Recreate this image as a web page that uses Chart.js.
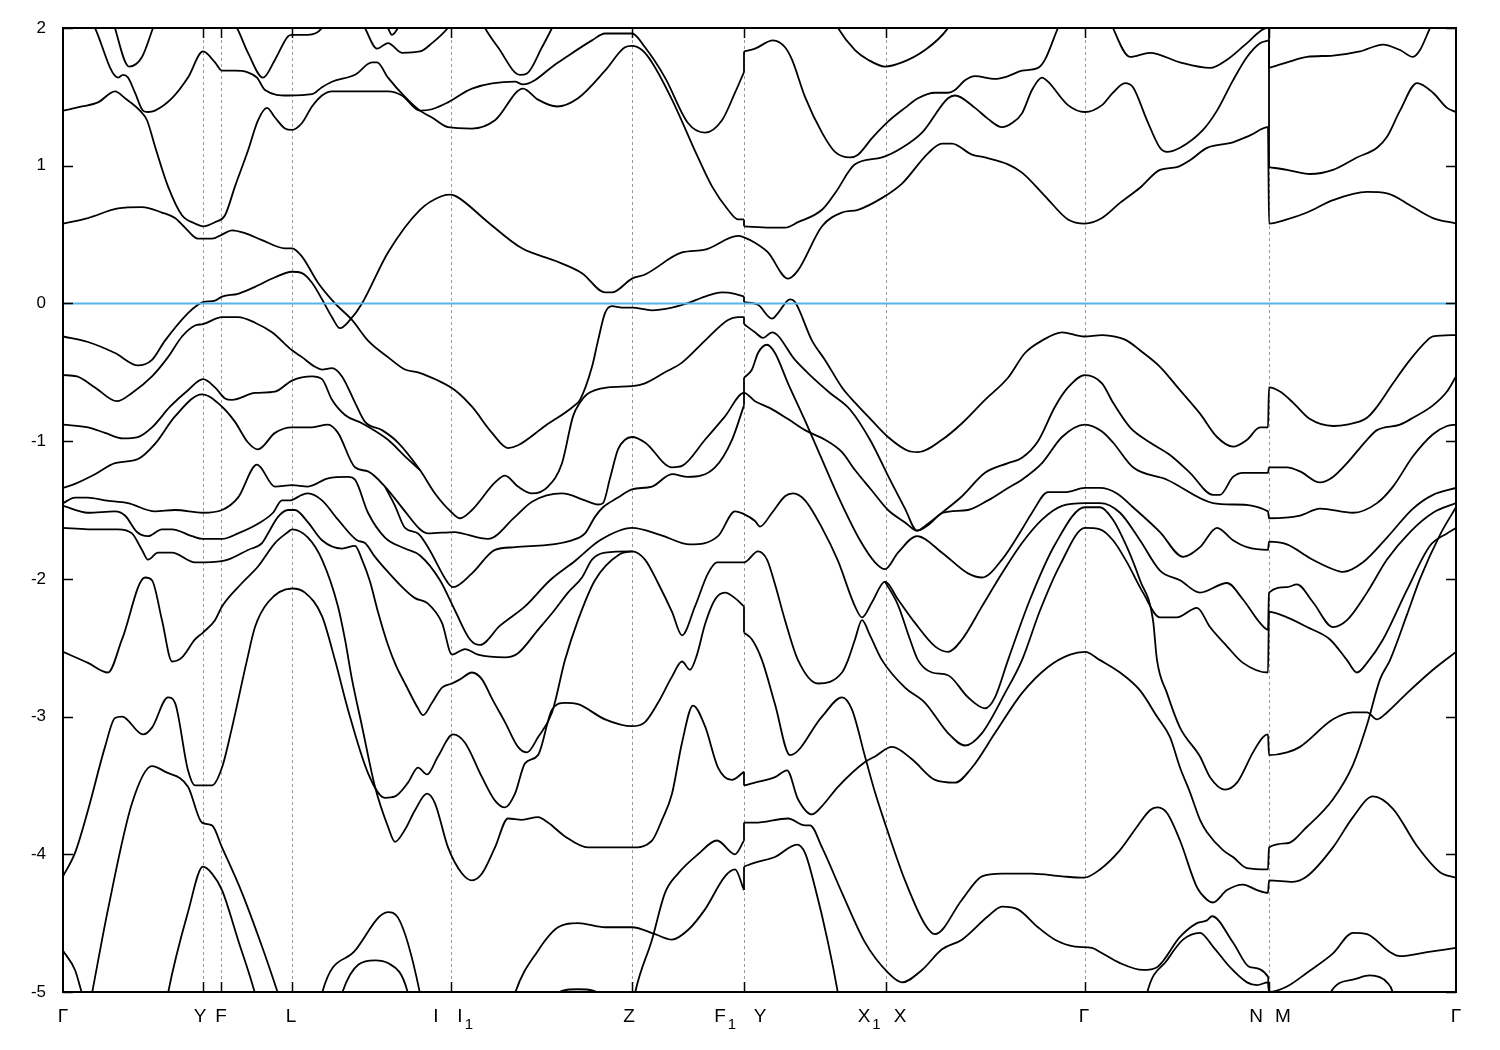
<!DOCTYPE html>
<html>
<head>
<meta charset="utf-8">
<script src="https://cdn.jsdelivr.net/npm/chart.js@4.4.1/dist/chart.umd.min.js"></script>
<style>
  body { margin: 0; background: #fff; }
  #wrap { width: 1500px; height: 1050px; }
</style>
</head>
<body>
<div id="wrap"><canvas id="bands" width="1500" height="1050"></canvas></div>
<script>
// k-path positions of the high-symmetry points
const symK = [0, 140, 158, 229, 388, 569, 681, 823, 1022, 1206, 1393];
// label text, subscript and label centre along the path
const kLabelText = ['Γ', 'Y', 'F', 'L', 'I', 'I', 'Z', 'F', 'Y', 'X', 'X', 'Γ', 'N', 'M', 'Γ'];
const kLabelSub  = ['', '', '', '', '', '1', '', '1', '', '1', '', '', '', '', ''];
const kLabelPos  = [0, 137, 158, 228, 373, 397, 566, 657, 697, 801, 837, 1021, 1193, 1220, 1393];
const yTicks = [2, 1, 0, -1, -2, -3, -4, -5];
const fermiLevel = 0;

// bands: [k, E (eV)]; two points at the same k are a jump at a path break
const bandQ = [[0,1.40],[19,1.43],[35,1.46],[52,1.54],[62,1.49],[77,1.40],[84,1.33],[92,1.14],[105,0.85],[119,0.64],[132,0.58],[140,0.56],[152,0.59],[162,0.64],[172,0.85],[185,1.11],[195,1.33],[204,1.42],[212,1.35],[222,1.27],[229,1.26],[239,1.31],[249,1.43],[259,1.51],[269,1.54],[325,1.54],[339,1.51],[357,1.40],[369,1.41],[385,1.46],[409,1.56],[452,1.61],[460,1.59],[495,1.75],[529,1.91],[542,1.96],[569,1.96],[582,1.86],[602,1.64],[625,1.31],[642,1.24],[659,1.33],[672,1.53],[681,1.68],[681,1.83],[692,1.85],[710,1.91],[722,1.86],[729,1.77],[742,1.50],[759,1.24],[772,1.10],[787,1.06],[795,1.08],[809,1.20],[825,1.32],[842,1.42],[855,1.49],[872,1.53],[885,1.53],[892,1.55],[902,1.62],[912,1.65],[932,1.63],[945,1.65],[959,1.69],[975,1.71],[982,1.77],[995,2.00],[999,2.06]];
const bandP = [[30,2.03],[32,2.00],[55,1.64],[60,1.66],[65,1.64],[72,1.53],[80,1.40],[85,1.39],[92,1.40],[109,1.49],[125,1.64],[140,1.83],[152,1.75],[159,1.69],[172,1.69],[184,1.68],[194,1.64],[202,1.55],[225,1.51],[249,1.52],[259,1.57],[269,1.61],[292,1.66],[309,1.75],[314,1.75],[325,1.64],[342,1.50],[357,1.40],[369,1.35],[385,1.28],[409,1.27],[432,1.33],[460,1.56],[475,1.48],[494,1.43],[515,1.49],[542,1.69],[562,1.86],[569,1.87],[579,1.84],[589,1.75],[609,1.48],[635,1.06],[649,0.85],[665,0.68],[675,0.61],[681,0.61],[681,0.56],[707,0.55],[722,0.55],[735,0.59],[759,0.68],[772,0.80],[792,1.01],[819,1.06],[839,1.13],[859,1.24],[885,1.49],[892,1.51],[912,1.42],[925,1.34],[939,1.28],[949,1.31],[959,1.38],[969,1.55],[979,1.64],[985,1.61],[1005,1.44],[1022,1.39],[1039,1.44],[1050,1.53],[1062,1.60],[1070,1.57],[1084,1.33],[1097,1.13],[1104,1.10],[1117,1.13],[1140,1.26],[1154,1.40],[1170,1.62],[1184,1.79],[1197,1.89],[1206,1.91],[1206,0.99],[1224,0.97],[1247,0.94],[1270,0.97],[1294,1.06],[1314,1.13],[1324,1.21],[1337,1.40],[1354,1.60],[1370,1.53],[1384,1.42],[1393,1.39]];
const bandT = [[1047,2.06],[1050,2.00],[1067,1.79],[1087,1.82],[1117,1.75],[1147,1.71],[1164,1.77],[1184,1.89],[1204,2.00],[1206,2.00],[1206,1.71],[1224,1.75],[1244,1.79],[1270,1.80],[1297,1.83],[1320,1.88],[1337,1.84],[1350,1.79],[1357,1.84],[1367,2.00],[1371,2.06]];
const bandTopA = [[50,2.06],[52,2.00],[66,1.72],[79,1.79],[90,2.00],[93,2.06]];
const bandTopB = [[172,2.02],[174,2.00],[185,1.82],[200,1.64],[212,1.77],[225,1.94],[229,1.95],[245,1.95],[259,2.00],[263,2.06]];
const bandTopC = [[300,2.03],[302,2.00],[314,1.85],[325,1.89],[339,1.82],[357,1.83],[369,1.89],[385,2.00],[388,2.03]];
const bandTopD = [[323,2.03],[325,2.00],[329,1.95],[335,2.00],[337,2.03]];
const bandTopE = [[420,2.03],[422,2.00],[435,1.86],[457,1.66],[464,1.67],[479,1.86],[489,2.00],[491,2.03]];
const bandTopF = [[773,2.03],[775,2.00],[792,1.84],[805,1.77],[822,1.72],[839,1.75],[862,1.84],[884,1.99],[887,2.03]];
const bandY0 = [[0,-0.24],[25,-0.28],[52,-0.36],[75,-0.45],[89,-0.41],[102,-0.27],[125,-0.07],[135,-0.01],[140,0.01],[152,0.02],[159,0.05],[175,0.07],[192,0.12],[212,0.19],[229,0.23],[239,0.22],[249,0.15],[259,0.03],[269,-0.10],[277,-0.18],[287,-0.12],[299,0.00],[325,0.37],[357,0.68],[379,0.78],[388,0.79],[395,0.77],[425,0.59],[459,0.40],[492,0.31],[519,0.22],[542,0.08],[549,0.08],[569,0.18],[582,0.21],[619,0.37],[642,0.39],[675,0.49],[681,0.48],[692,0.44],[705,0.37],[725,0.18],[735,0.24],[759,0.56],[779,0.66],[795,0.68],[820,0.77],[839,0.87],[865,1.09],[879,1.16],[889,1.16],[909,1.08],[922,1.06],[945,1.01],[959,0.95],[982,0.78],[1005,0.61],[1022,0.58],[1039,0.62],[1057,0.73],[1077,0.84],[1097,0.97],[1114,0.99],[1127,1.04],[1144,1.13],[1170,1.17],[1187,1.22],[1205,1.28],[1206,0.58],[1224,0.61],[1244,0.66],[1270,0.75],[1304,0.81],[1324,0.80],[1350,0.70],[1370,0.62],[1393,0.58]];
const bandA = [[0,0.58],[25,0.62],[55,0.69],[79,0.70],[99,0.66],[112,0.62],[122,0.55],[135,0.47],[149,0.47],[159,0.50],[169,0.53],[182,0.51],[199,0.46],[222,0.40],[229,0.40],[239,0.34],[255,0.15],[272,0.00],[289,-0.12],[305,-0.27],[325,-0.39],[342,-0.48],[355,-0.50],[375,-0.56],[392,-0.63],[409,-0.75],[429,-0.94],[445,-1.05],[455,-1.03],[482,-0.89],[510,-0.75],[517,-0.70],[529,-0.46],[535,-0.27],[542,-0.07],[549,-0.02],[559,-0.03],[569,-0.03],[589,-0.05],[609,-0.03],[624,0.00],[642,0.05],[659,0.08],[672,0.07],[681,0.05],[681,0.01],[695,-0.01],[709,-0.11],[715,-0.07],[727,0.03],[732,0.01],[749,-0.27],[762,-0.41],[779,-0.61],[792,-0.72],[805,-0.82],[825,-0.97],[845,-1.07],[855,-1.08],[879,-0.99],[899,-0.87],[922,-0.70],[945,-0.54],[962,-0.36],[979,-0.27],[999,-0.21],[1021,-0.24],[1039,-0.23],[1057,-0.25],[1064,-0.27],[1077,-0.34],[1097,-0.46],[1117,-0.63],[1137,-0.80],[1154,-0.97],[1170,-1.04],[1184,-0.99],[1197,-0.90],[1205,-0.90],[1206,-0.61],[1217,-0.64],[1230,-0.72],[1247,-0.84],[1270,-0.89],[1284,-0.88],[1304,-0.83],[1314,-0.75],[1330,-0.58],[1347,-0.41],[1364,-0.27],[1370,-0.24],[1393,-0.23]];
const bandV2 = [[0,-0.52],[14,-0.53],[32,-0.61],[54,-0.71],[69,-0.65],[89,-0.53],[105,-0.39],[119,-0.24],[132,-0.16],[140,-0.15],[159,-0.10],[175,-0.10],[192,-0.14],[209,-0.21],[229,-0.34],[239,-0.39],[252,-0.46],[259,-0.48],[269,-0.47],[279,-0.53],[292,-0.72],[302,-0.86],[319,-0.92],[335,-1.01],[357,-1.21],[372,-1.38],[389,-1.52],[397,-1.56],[409,-1.50],[432,-1.30],[442,-1.25],[455,-1.33],[469,-1.38],[485,-1.33],[499,-1.16],[510,-0.82],[517,-0.72],[524,-0.66],[545,-0.61],[569,-0.60],[582,-0.58],[602,-0.50],[619,-0.43],[642,-0.27],[665,-0.12],[675,-0.10],[681,-0.10],[681,-0.15],[692,-0.21],[700,-0.25],[709,-0.21],[732,-0.41],[747,-0.52],[767,-0.65],[787,-0.77],[807,-0.99],[827,-1.28],[842,-1.49],[854,-1.65],[865,-1.61],[880,-1.52],[905,-1.50],[925,-1.43],[945,-1.34],[959,-1.28],[979,-1.16],[999,-0.97],[1022,-0.88],[1039,-0.93],[1050,-1.01],[1070,-1.19],[1104,-1.28],[1150,-1.45],[1170,-1.46],[1205,-1.51],[1206,-1.56],[1237,-1.54],[1257,-1.49],[1290,-1.52],[1314,-1.45],[1330,-1.33],[1350,-1.11],[1370,-0.95],[1384,-0.89],[1393,-0.88]];
const bandIII = [[0,-0.88],[25,-0.90],[42,-0.94],[60,-0.98],[75,-0.97],[89,-0.90],[107,-0.75],[125,-0.63],[140,-0.55],[152,-0.61],[162,-0.69],[169,-0.70],[192,-0.65],[212,-0.64],[229,-0.56],[249,-0.53],[259,-0.55],[269,-0.70],[282,-0.81],[299,-0.87],[325,-0.99],[342,-1.11],[357,-1.21]];
const bandIV = [[0,-1.34],[12,-1.31],[32,-1.24],[52,-1.16],[75,-1.13],[92,-1.02],[112,-0.82],[139,-0.66],[159,-0.75],[172,-0.86],[185,-1.01],[195,-1.06],[212,-0.94],[229,-0.90],[249,-0.90],[265,-0.88],[275,-0.94],[292,-1.19],[305,-1.22],[322,-1.33],[342,-1.51],[357,-1.64],[365,-1.67],[392,-1.66],[399,-1.67],[425,-1.71],[452,-1.55],[469,-1.44],[499,-1.38],[522,-1.43],[535,-1.46],[540,-1.45],[547,-1.27],[555,-1.06],[562,-0.99],[569,-0.97],[582,-1.01],[609,-1.19],[619,-1.18],[642,-0.99],[662,-0.82],[681,-0.65],[692,-0.71],[707,-0.76],[725,-0.84],[742,-0.92],[762,-0.99],[779,-1.08],[792,-1.21],[809,-1.36],[825,-1.50],[842,-1.59],[854,-1.65],[865,-1.60],[879,-1.52],[899,-1.40],[922,-1.23],[945,-1.16],[959,-1.12],[975,-1.00],[992,-0.75],[1005,-0.61],[1022,-0.52],[1039,-0.58],[1050,-0.72],[1067,-0.90],[1087,-1.01],[1107,-1.10],[1127,-1.23],[1150,-1.39],[1157,-1.39],[1170,-1.26],[1180,-1.23],[1205,-1.23],[1206,-1.19],[1224,-1.19],[1237,-1.22],[1257,-1.30],[1270,-1.26],[1284,-1.16],[1304,-0.99],[1314,-0.92],[1337,-0.88],[1350,-0.83],[1370,-0.74],[1384,-0.64],[1393,-0.53]];
const band66 = [[322,-1.33],[332,-1.47],[342,-1.63],[355,-1.67],[365,-1.77],[385,-2.03],[390,-2.06],[409,-1.96],[432,-1.79],[452,-1.77],[509,-1.72],[522,-1.67],[532,-1.55],[540,-1.48],[555,-1.41],[569,-1.35],[589,-1.33],[609,-1.24],[625,-1.26],[652,-1.19],[669,-0.99],[681,-0.74],[681,-0.54],[689,-0.48],[695,-0.36],[704,-0.30],[712,-0.36],[725,-0.58],[742,-0.85],[757,-1.10],[777,-1.43],[797,-1.72],[812,-1.88],[822,-1.93],[835,-1.81],[854,-1.69],[879,-1.81],[905,-1.96],[919,-1.99],[939,-1.86],[959,-1.64],[969,-1.52],[985,-1.37],[1002,-1.37],[1022,-1.34],[1037,-1.34],[1054,-1.38],[1070,-1.48],[1097,-1.66],[1120,-1.84],[1137,-1.77],[1154,-1.63],[1170,-1.72],[1184,-1.77],[1205,-1.79],[1206,-1.73],[1224,-1.75],[1247,-1.85],[1270,-1.93],[1280,-1.95],[1300,-1.88],[1324,-1.70],[1350,-1.49],[1370,-1.39],[1393,-1.34]];
const bandV = [[0,-1.45],[12,-1.41],[25,-1.41],[42,-1.43],[65,-1.45],[92,-1.51],[112,-1.50],[140,-1.52],[159,-1.50],[175,-1.41],[194,-1.17],[212,-1.33],[229,-1.32],[245,-1.33],[265,-1.27],[285,-1.26],[292,-1.28],[305,-1.52],[322,-1.70],[342,-1.78],[357,-1.83],[377,-2.01],[392,-2.23],[407,-2.44],[417,-2.48],[437,-2.34],[462,-2.20],[487,-2.01],[512,-1.87],[537,-1.72],[569,-1.63],[597,-1.68],[627,-1.75],[655,-1.69],[672,-1.51],[681,-1.53],[692,-1.58],[697,-1.62],[709,-1.52],[722,-1.40],[730,-1.38],[742,-1.43],[759,-1.63],[775,-1.87],[792,-2.20],[799,-2.28],[809,-2.17],[822,-2.02],[835,-2.15],[852,-2.32],[872,-2.49],[885,-2.53],[899,-2.44],[919,-2.20],[939,-1.96],[959,-1.74],[979,-1.57],[999,-1.47],[1022,-1.45],[1037,-1.45],[1057,-1.52],[1077,-1.72],[1097,-1.94],[1117,-2.01],[1137,-2.10],[1164,-2.03],[1180,-2.15],[1197,-2.32],[1205,-2.37],[1206,-2.10],[1224,-2.06],[1234,-2.04],[1250,-2.17],[1270,-2.35],[1284,-2.30],[1304,-2.10],[1324,-1.86],[1347,-1.66],[1370,-1.52],[1393,-1.45]];
const bandVI = [[0,-1.47],[25,-1.52],[52,-1.51],[62,-1.54],[74,-1.66],[85,-1.69],[99,-1.64],[109,-1.64],[129,-1.69],[140,-1.71],[159,-1.71],[175,-1.67],[195,-1.60],[210,-1.52],[219,-1.43],[227,-1.43],[239,-1.39],[245,-1.38],[259,-1.43],[275,-1.57],[294,-1.72],[302,-1.74],[312,-1.84],[325,-1.95],[342,-2.08],[352,-2.14],[365,-2.18],[379,-2.32],[389,-2.55],[402,-2.51],[415,-2.55],[442,-2.57],[455,-2.54],[475,-2.37],[489,-2.25],[505,-2.10],[519,-1.99],[529,-1.86],[542,-1.81],[569,-1.80],[582,-1.86],[595,-2.03],[609,-2.24],[619,-2.41],[632,-2.20],[645,-1.96],[654,-1.88],[681,-1.88],[695,-1.80],[704,-1.86],[712,-2.04],[722,-2.30],[735,-2.59],[755,-2.76],[779,-2.68],[785,-2.59],[792,-2.44],[799,-2.30],[807,-2.41],[819,-2.59],[842,-2.79],[862,-2.90],[885,-3.12],[902,-3.21],[919,-3.12],[942,-2.83],[959,-2.59],[977,-2.23],[997,-1.90],[1022,-1.63],[1037,-1.64],[1050,-1.72],[1064,-1.88],[1080,-2.10],[1097,-2.28],[1114,-2.28],[1134,-2.21],[1147,-2.35],[1164,-2.49],[1180,-2.61],[1205,-2.68],[1206,-2.24],[1224,-2.28],[1244,-2.35],[1267,-2.44],[1284,-2.59],[1294,-2.68],[1304,-2.61],[1320,-2.44],[1344,-2.08],[1367,-1.76],[1384,-1.67],[1393,-1.63]];
const bandVII = [[0,-1.63],[25,-1.64],[55,-1.64],[69,-1.67],[79,-1.79],[85,-1.86],[95,-1.81],[109,-1.81],[132,-1.88],[142,-1.88],[165,-1.86],[185,-1.79],[199,-1.74],[205,-1.67],[215,-1.55],[225,-1.50],[232,-1.50],[245,-1.59],[259,-1.72],[279,-1.78],[292,-1.76],[299,-1.86],[307,-2.02],[315,-2.24],[325,-2.48],[333,-2.63],[342,-2.76],[355,-2.94],[360,-2.99],[369,-2.90],[379,-2.79],[389,-2.76],[397,-2.73],[409,-2.68],[419,-2.73],[429,-2.87],[442,-3.04],[455,-3.22],[464,-3.26],[475,-3.15],[489,-2.97],[502,-2.59],[515,-2.30],[532,-2.01],[557,-1.82],[569,-1.80]];
const bandVIII = [[0,-2.53],[25,-2.61],[45,-2.68],[59,-2.44],[82,-1.99],[89,-2.01],[99,-2.30],[109,-2.60],[119,-2.57],[132,-2.44],[140,-2.39],[152,-2.30],[159,-2.20],[179,-2.03],[195,-1.91],[212,-1.74],[225,-1.66],[229,-1.64],[245,-1.70],[259,-1.86],[275,-2.20],[282,-2.44],[289,-2.73],[299,-3.07],[312,-3.51],[325,-3.80],[332,-3.91],[342,-3.82],[352,-3.68],[364,-3.56],[372,-3.63],[385,-3.95],[399,-4.14],[409,-4.19],[419,-4.14],[432,-3.95],[445,-3.74],[459,-3.75],[475,-3.73],[485,-3.77],[502,-3.87],[525,-3.95],[542,-3.95],[569,-3.95],[589,-3.90],[599,-3.75],[609,-3.56],[619,-3.19],[630,-2.92],[642,-3.07],[655,-3.37],[669,-3.46],[681,-3.40],[681,-3.50],[692,-3.48],[712,-3.44],[724,-3.39],[735,-3.60],[749,-3.71],[759,-3.65],[775,-3.51],[802,-3.33],[812,-3.29],[829,-3.22],[849,-3.31],[872,-3.46],[892,-3.48],[909,-3.37],[932,-3.12],[959,-2.83],[985,-2.64],[1007,-2.55],[1022,-2.53],[1037,-2.59],[1057,-2.68],[1077,-2.81],[1094,-3.00],[1107,-3.15],[1117,-3.37],[1127,-3.55],[1137,-3.75],[1144,-3.84],[1160,-3.97],[1170,-4.02],[1184,-4.10],[1205,-4.11],[1206,-3.95],[1224,-3.92],[1244,-3.80],[1270,-3.60],[1290,-3.35],[1304,-3.06],[1317,-2.73],[1327,-2.59],[1344,-2.26],[1357,-2.00],[1377,-1.68],[1393,-1.48]];
const bandIX = [[0,-4.16],[12,-3.99],[25,-3.68],[42,-3.22],[52,-3.01],[59,-3.00],[80,-3.13],[89,-3.08],[105,-2.86],[112,-2.90],[125,-3.39],[132,-3.50],[149,-3.50],[159,-3.37],[169,-3.08],[184,-2.59],[192,-2.35],[205,-2.17],[229,-2.07],[242,-2.10],[259,-2.27],[272,-2.59],[285,-2.95],[305,-3.41],[322,-3.59],[332,-3.58],[345,-3.48],[355,-3.37],[364,-3.42],[375,-3.29],[390,-3.13],[402,-3.19],[419,-3.44],[432,-3.61],[442,-3.66],[452,-3.56],[462,-3.34],[475,-3.28],[489,-2.95],[502,-2.90],[515,-2.91],[542,-3.02],[569,-3.07],[582,-3.04],[595,-2.90],[609,-2.71],[619,-2.60],[627,-2.66],[634,-2.55],[642,-2.33],[652,-2.15],[662,-2.10],[672,-2.14],[681,-2.20],[681,-2.39],[689,-2.44],[699,-2.59],[712,-2.91],[727,-3.28],[759,-3.00],[779,-2.86],[789,-2.95],[802,-3.29],[812,-3.55],[825,-3.84],[842,-4.19],[862,-4.51],[872,-4.58],[899,-4.33],[919,-4.16],[939,-4.14],[969,-4.14],[999,-4.16],[1021,-4.17],[1037,-4.11],[1057,-3.97],[1074,-3.80],[1087,-3.68],[1094,-3.66],[1104,-3.70],[1117,-3.90],[1134,-4.24],[1144,-4.33],[1150,-4.35],[1164,-4.26],[1180,-4.22],[1194,-4.26],[1205,-4.28],[1206,-4.19],[1230,-4.20],[1244,-4.16],[1270,-3.95],[1290,-3.73],[1310,-3.58],[1330,-3.67],[1354,-3.94],[1377,-4.13],[1393,-4.17]];
const bandX = [[0,-4.70],[12,-4.84],[19,-5.01],[23,-5.10]];
const bandXI = [[29,-5.01],[45,-4.40],[69,-3.63],[89,-3.36],[102,-3.40],[125,-3.51],[139,-3.77],[149,-3.79],[159,-3.95],[179,-4.28],[199,-4.67],[215,-5.01],[219,-5.10]];
const bandXII = [[103,-5.10],[105,-5.01],[125,-4.42],[140,-4.09],[149,-4.14],[159,-4.26],[175,-4.62],[192,-5.01],[195,-5.10]];
const bandXIV = [[257,-5.10],[259,-5.01],[292,-4.70],[325,-4.42],[335,-4.46],[357,-5.01],[359,-5.10]];
const bandXV = [[277,-5.10],[279,-5.01],[312,-4.77],[325,-4.79],[345,-5.01],[347,-5.10]];
const bandXVI = [[485,-5.05],[500,-4.99],[515,-4.98],[530,-4.99],[545,-5.05]];
const bandXVII = [[570,-5.10],[572,-5.01],[589,-4.62],[602,-4.28],[615,-4.14],[635,-4.00],[654,-3.90],[672,-4.00],[681,-3.90],[681,-3.77],[692,-3.77],[725,-3.74],[742,-3.79],[747,-3.79],[759,-3.95],[779,-4.28],[802,-4.64],[825,-4.86],[839,-4.93],[859,-4.84],[879,-4.69],[899,-4.62],[925,-4.45],[939,-4.38],[955,-4.40],[975,-4.53],[992,-4.62],[1012,-4.67],[1029,-4.68],[1037,-4.71],[1057,-4.79],[1080,-4.84],[1094,-4.82],[1117,-4.60],[1134,-4.50],[1144,-4.48],[1149,-4.45],[1170,-4.64],[1187,-4.82],[1205,-4.89],[1206,-5.00],[1224,-4.96],[1244,-4.86],[1270,-4.72],[1290,-4.57],[1304,-4.58],[1327,-4.71],[1337,-4.74],[1364,-4.71],[1393,-4.68]];
const bandXVIII = [[449,-5.10],[452,-5.01],[475,-4.70],[495,-4.53],[515,-4.50],[542,-4.53],[569,-4.53],[592,-4.58],[609,-4.62],[625,-4.55],[642,-4.40],[662,-4.16],[672,-4.11],[681,-4.26],[681,-4.09],[692,-4.06],[712,-4.02],[734,-3.93],[742,-3.99],[752,-4.24],[765,-4.64],[775,-5.01],[777,-5.10]];
const bandXX = [[822,-2.02],[835,-2.19],[847,-2.44],[855,-2.59],[869,-2.68],[885,-2.70],[905,-2.86],[922,-2.94],[932,-2.86],[945,-2.59],[967,-2.15],[992,-1.75],[1022,-1.48],[1037,-1.48],[1050,-1.57],[1064,-1.77],[1077,-2.01],[1090,-2.30],[1094,-2.59],[1104,-2.83],[1117,-3.08],[1137,-3.29],[1147,-3.44],[1162,-3.53],[1174,-3.48],[1190,-3.26],[1200,-3.15],[1205,-3.13],[1206,-3.28],[1224,-3.26],[1237,-3.22],[1270,-3.02],[1290,-2.97],[1304,-2.97],[1314,-3.02],[1324,-2.97],[1344,-2.83],[1370,-2.66],[1393,-2.53]];
const bandXXI = [[1082,-5.10],[1084,-5.01],[1104,-4.77],[1120,-4.62],[1137,-4.57],[1150,-4.67],[1167,-4.82],[1184,-4.93],[1194,-4.95],[1205,-4.93],[1206,-5.00]];
const bandXXII = [[1265,-5.10],[1267,-5.01],[1290,-4.91],[1307,-4.88],[1324,-4.93],[1330,-5.01],[1332,-5.10]];

const allBands = [bandQ, bandP, bandT, bandTopA, bandTopB, bandTopC, bandTopD, bandTopE, bandTopF,
  bandY0, bandA, bandV2, bandIII, bandIV, band66, bandV, bandVI, bandVII, bandVIII, bandIX,
  bandX, bandXI, bandXII, bandXIV, bandXV, bandXVI, bandXVII, bandXVIII,
  bandXX, bandXXI, bandXXII];

const FONT = "'Liberation Sans', Arial, Helvetica, sans-serif";

// cut a band where it jumps (same k twice): smooth pieces plus straight jump segments
function pieces(band) {
  const out = [];
  let cur = [band[0]];
  for (let i = 1; i < band.length; i++) {
    const p = band[i], q = band[i - 1];
    if (p[0] === q[0]) {
      out.push({ pts: cur, smooth: true });
      out.push({ pts: [q, p], smooth: false });
      cur = [p];
    } else {
      cur.push(p);
    }
  }
  out.push({ pts: cur, smooth: true });
  return out.filter(s => s.pts.length > 1);
}

const datasets = [];
allBands.forEach(b => {
  pieces(b).forEach(s => {
    datasets.push({
      data: s.pts.map(([k, e]) => ({ x: k, y: e })),
      showLine: true,
      borderColor: '#000',
      borderWidth: 1.8,
      pointRadius: 0,
      fill: false,
      tension: 0,
      cubicInterpolationMode: s.smooth && s.pts.length > 2 ? 'monotone' : 'default'
    });
  });
});

// dashed lines at the symmetry points, zero line, inward ticks and k labels
const decor = {
  id: 'decor',
  beforeDatasetsDraw(chart) {
    const { ctx, chartArea: a, scales: { x } } = chart;
    ctx.save();
    ctx.strokeStyle = '#9a9a9a';
    ctx.lineWidth = 1;
    ctx.setLineDash([3, 3]);
    symK.slice(1, -1).forEach(k => {
      const px = Math.round(x.getPixelForValue(k)) + 0.5;
      ctx.beginPath(); ctx.moveTo(px, a.top); ctx.lineTo(px, a.bottom); ctx.stroke();
    });
    ctx.restore();
  },
  afterDatasetsDraw(chart) {
    const { ctx, chartArea: a, scales: { x, y } } = chart;
    ctx.save();
    const yz = y.getPixelForValue(fermiLevel);
    ctx.strokeStyle = '#56b4e9';
    ctx.lineWidth = 2;
    ctx.beginPath(); ctx.moveTo(a.left, yz); ctx.lineTo(a.right, yz); ctx.stroke();
    ctx.strokeStyle = '#000';
    ctx.lineWidth = 2;
    ctx.strokeRect(a.left, a.top, a.right - a.left, a.bottom - a.top);
    ctx.lineWidth = 1.5;
    yTicks.forEach(v => {
      const py = Math.round(y.getPixelForValue(v)) + 0.5;
      ctx.beginPath();
      ctx.moveTo(a.left, py); ctx.lineTo(a.left + 10, py);
      ctx.moveTo(a.right, py); ctx.lineTo(a.right - 10, py);
      ctx.stroke();
    });
    symK.slice(1, -1).forEach(k => {
      const px = Math.round(x.getPixelForValue(k)) + 0.5;
      ctx.beginPath();
      ctx.moveTo(px, a.top); ctx.lineTo(px, a.top + 10);
      ctx.moveTo(px, a.bottom); ctx.lineTo(px, a.bottom - 10);
      ctx.stroke();
    });
    ctx.fillStyle = '#000';
    ctx.textBaseline = 'alphabetic';
    kLabelText.forEach((t, i) => {
      const px = x.getPixelForValue(kLabelPos[i]);
      ctx.font = '19px ' + FONT;
      ctx.textAlign = 'center';
      ctx.fillText(t, px, a.bottom + 30);
      if (kLabelSub[i]) {
        const w = ctx.measureText(t).width;
        ctx.font = '15px ' + FONT;
        ctx.textAlign = 'left';
        ctx.fillText(kLabelSub[i], px + w / 2 + 2, a.bottom + 37);
      }
    });
    ctx.restore();
  }
};

new Chart(document.getElementById('bands'), {
  type: 'scatter',
  data: { datasets },
  options: {
    responsive: false,
    animation: false,
    devicePixelRatio: 1,
    layout: { padding: { left: 0, right: 44, top: 28, bottom: 0 } },
    plugins: { legend: { display: false }, tooltip: { enabled: false } },
    scales: {
      x: {
        type: 'linear',
        min: 0,
        max: 1393,
        grid: { display: false },
        border: { display: false },
        ticks: { display: false },
        afterFit: s => { s.height = 58; }
      },
      y: {
        min: -5,
        max: 2,
        afterBuildTicks: s => { s.ticks = yTicks.map(v => ({ value: v })); },
        grid: { display: false, drawTicks: false },
        border: { display: false },
        ticks: {
          color: '#000',
          padding: 17,
          font: { family: FONT, size: 17 },
          callback: v => String(v)
        },
        afterFit: s => { s.width = 63; }
      }
    }
  },
  plugins: [decor]
});
</script>
</body>
</html>
